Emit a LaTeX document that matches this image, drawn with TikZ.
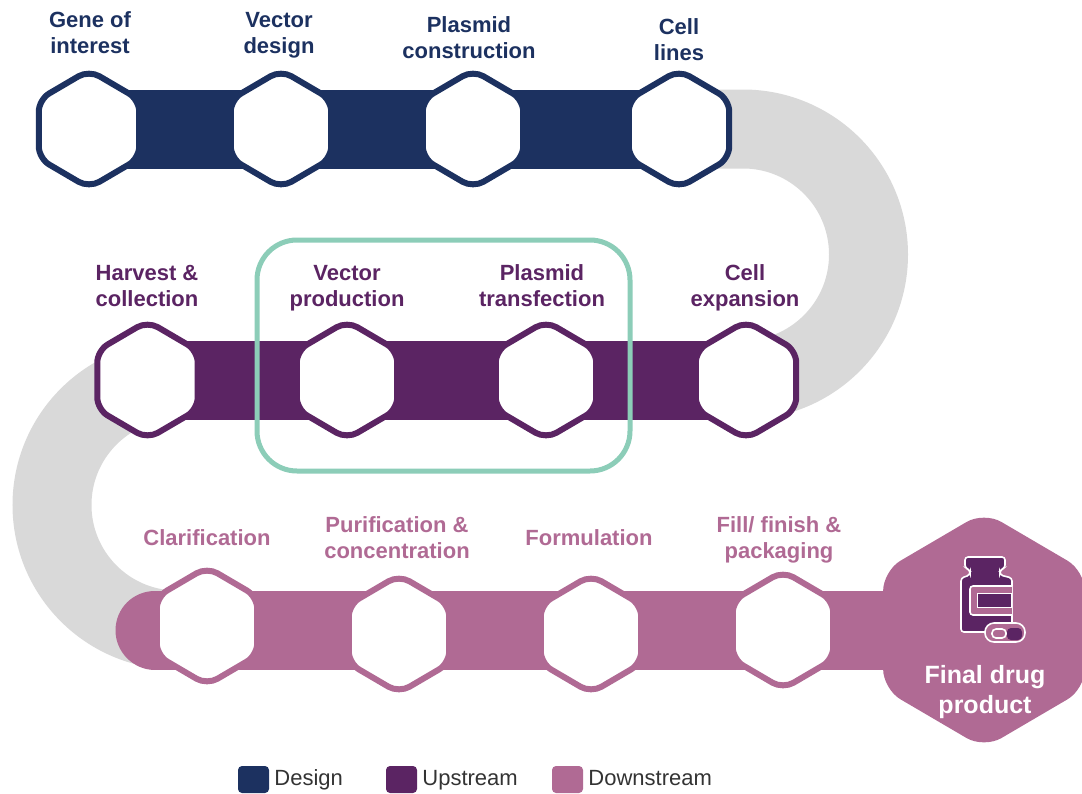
\documentclass[tikz,border=0pt]{standalone}
\usepackage{fontspec}
\setmainfont{Liberation Sans}
\usetikzlibrary{shapes.geometric,backgrounds,positioning}
\definecolor{designcol}{HTML}{1C3160}
\definecolor{upcol}{HTML}{5B2463}
\definecolor{downcol}{HTML}{B06A94}
\definecolor{loopcol}{HTML}{D9D9D9}
\definecolor{framecol}{HTML}{8CCDB8}
\tikzset{
	hexstep/.style={regular polygon,regular polygon sides=6,shape border rotate=30,rounded corners=12pt,
		minimum size=116pt,inner sep=0pt,outer sep=0pt,yscale=1.015,transform shape,fill=white,line width=6pt},
	steptext/.style={align=center,inner sep=0pt,anchor=north,text height=16pt,font=\fontsize{22}{25.5}\selectfont\bfseries},
	band/.style={line width=79pt},
	legendbox/.style={rounded corners=4pt,minimum width=31pt,minimum height=27pt,inner sep=0pt},
	legendtext/.style={right=5pt of #1,inner sep=0pt,text height=16pt,text depth=5pt,text=black!80,font=\fontsize{22}{25}\selectfont},
	iconline/.style={white,line width=1.6pt}
}
\begin{document}
\begin{tikzpicture}[x=1pt,y=-1pt]
		\useasboundingbox (0,0) rectangle (1082,793);
		% design row
		\node[hexstep,draw=designcol] (gene) at (89,129) {};
		\node[hexstep,draw=designcol] (vdesign) at (281,129) {};
		\node[hexstep,draw=designcol] (construct) at (473,129) {};
		\node[hexstep,draw=designcol] (lines) at (679,129) {};
		\node[steptext,text=designcol] (genetext) at (90,37) {Gene of\\interest};
		\node[steptext,text=designcol] (vdesigntext) at (279,37) {Vector\\design};
		\node[steptext,text=designcol] (constructtext) at (469,42) {Plasmid\\construction};
		\node[steptext,text=designcol] (linestext) at (679,44) {Cell\\lines};
		% upstream row
		\node[hexstep,draw=upcol] (harvest) at (147.5,380) {};
		\node[hexstep,draw=upcol] (vprod) at (347,380) {};
		\node[hexstep,draw=upcol] (transfect) at (546,380) {};
		\node[hexstep,draw=upcol] (expand) at (746,380) {};
		\node[steptext,text=upcol] (harvesttext) at (147,290) {Harvest \&\\collection};
		\node[steptext,text=upcol] (vprodtext) at (347,290) {Vector\\production};
		\node[steptext,text=upcol] (transfecttext) at (542,290) {Plasmid\\transfection};
		\node[steptext,text=upcol] (expandtext) at (745,290) {Cell\\expansion};
		% downstream row
		\node[hexstep,draw=downcol] (clarify) at (207,626) {};
		\node[hexstep,draw=downcol] (purify) at (399,634) {};
		\node[hexstep,draw=downcol] (formul) at (591,634) {};
		\node[hexstep,draw=downcol] (fill) at (783,630) {};
		\node[steptext,text=downcol] (clarifytext) at (207,529) {Clarification};
		\node[steptext,text=downcol] (purifytext) at (397,542) {Purification \&\\concentration};
		\node[steptext,text=downcol] (formultext) at (589,529) {Formulation};
		\node[steptext,text=downcol] (filltext) at (779,542) {Fill/ finish \&\\packaging};
		\node[hexstep,rounded corners=20pt,minimum size=233pt,fill=downcol,draw=none] (final) at (984,630) {};
		\coordinate (downstart) at (155,630);
		\coordinate (rightloop) at (743,129);
		\coordinate (leftloop) at (177,380);
		% ribbons behind the hexagons
		\begin{scope}[on background layer]
			\draw[band,loopcol] (lines.center) -- (rightloop) arc (-90:90:125.5) -- (expand.center);
			\draw[band,loopcol] (harvest.center) -- (leftloop) arc (270:90:125) -- (downstart);
			\draw[band,designcol] (gene.center) -- (lines.center);
			\draw[band,upcol] (harvest.center) -- (expand.center);
			\draw[band,downcol,line cap=round] (downstart) -- (final.center);
		\end{scope}
		% frame round the two middle steps
		\node[draw=framecol,line width=5pt,rounded corners=40pt,minimum width=373pt,minimum height=231pt] (frame) at (443.5,355.5) {};
		% bottle and capsule
		\draw[iconline,fill=upcol,rounded corners=3pt] (965,557) -- (1005,557) -- (1005,568) -- (1000,570) -- (1000,575) -- (1012,578) -- (1012,632) -- (961,632) -- (961,578) -- (970,575) -- (970,570) -- (965,568) -- cycle;
		\draw[iconline,fill=downcol,rounded corners=3pt] (1012,586) -- (970,586) -- (970,615) -- (1012,615);
		\draw[iconline,fill=upcol,line width=1pt] (977,593) rectangle (1011,607);
		\draw[iconline,fill=downcol,rounded corners=9pt] (985,623) rectangle (1025,642);
		\draw[iconline,rounded corners=4pt] (992,629) rectangle (1006,638);
		\fill[upcol,rounded corners=4pt] (1007,628) rectangle (1022,640);
		\node[steptext,text height=18pt,text=white,font=\fontsize{25}{30}\selectfont\bfseries] (finaltext) at (985,695) {Final drug\\product};
		% legend
		\node[legendbox,fill=designcol] (keydesign) at (253.5,779.5) {};
		\node[legendtext=keydesign] (keydesigntext) {Design};
		\node[legendbox,fill=upcol] (keyup) at (401.5,779.5) {};
		\node[legendtext=keyup] (keyuptext) {Upstream};
		\node[legendbox,fill=downcol] (keydown) at (567.5,779.5) {};
		\node[legendtext=keydown] (keydowntext) {Downstream};
	\end{tikzpicture}
\end{document}
